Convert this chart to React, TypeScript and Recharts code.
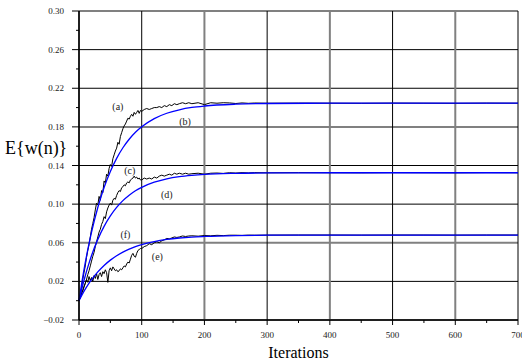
import React from 'react';
import { LineChart, Line, XAxis, YAxis, CartesianGrid, ReferenceDot } from 'recharts';

// ---- iterations (x) ----
const ITER_BLACK = [
  0, 2, 4, 6, 8, 10, 12, 14, 16, 18, 20, 22, 24, 26, 28, 30, 32, 34, 36, 38, 40, 42, 44, 46, 48, 50,
  52, 54, 56, 58, 60, 62, 64, 66, 68, 70, 72, 74, 76, 78, 80, 82, 84, 86, 88, 90, 92, 94, 96, 98, 100,
  104, 108, 112, 116, 120, 124, 128, 132, 136, 140, 144, 148, 152, 156, 160,
  165, 170, 175, 180,
  190, 200, 210, 220, 230, 240, 250, 260, 270, 280, 300, 350, 400, 450, 500, 550, 600, 650, 700,
];
const ITER_BLUE = [0, 5, 10, 15, 20, 30, 40, 50, 60, 70, 80, 90, 100, 120, 140, 160, 180, 200, 250, 300, 400, 500, 600, 700];

// ---- black (noisy) series ----
const SERIES_A = [
  0.0, 0.006, 0.013, 0.022, 0.029, 0.036, 0.045, 0.052, 0.058, 0.066, 0.074, 0.08, 0.086, 0.094, 0.101, 0.099,
  0.108, 0.104, 0.114, 0.112, 0.124, 0.122, 0.131, 0.129, 0.137, 0.141, 0.139, 0.147, 0.151, 0.155, 0.158,
  0.164, 0.162, 0.17, 0.174, 0.178, 0.181, 0.183, 0.186, 0.189, 0.188, 0.191, 0.193, 0.191, 0.195, 0.193,
  0.195, 0.197, 0.194, 0.197, 0.196,
  0.198, 0.199, 0.198, 0.199, 0.2, 0.2, 0.201, 0.2, 0.202, 0.201, 0.203, 0.202, 0.204, 0.203, 0.204,
  0.205, 0.204, 0.205, 0.204,
  0.205, 0.203, 0.205, 0.2045, 0.205, 0.2048, 0.2042, 0.2048, 0.2044, 0.2047, 0.2045, 0.2046, 0.2045, 0.2044,
  0.2046, 0.2045, 0.2044, 0.2046, 0.2045,
];
const SERIES_C = [
  0.0, 0.003, 0.007, 0.01, 0.014, 0.018, 0.022, 0.027, 0.031, 0.036, 0.041, 0.046, 0.05, 0.056, 0.061, 0.066,
  0.071, 0.074, 0.079, 0.082, 0.087, 0.085, 0.092, 0.096, 0.099, 0.101, 0.099, 0.104, 0.106, 0.105, 0.109,
  0.112, 0.114, 0.113, 0.117, 0.118, 0.12, 0.119, 0.122, 0.123, 0.122, 0.125, 0.126, 0.127, 0.129, 0.127,
  0.128, 0.126, 0.127, 0.125, 0.125,
  0.127, 0.126, 0.127, 0.126, 0.128, 0.127, 0.129, 0.13, 0.129, 0.13, 0.131, 0.13, 0.132, 0.131, 0.132,
  0.131, 0.132, 0.131, 0.1315,
  0.132, 0.131, 0.132, 0.1322, 0.1318, 0.1325, 0.1322, 0.1326, 0.1323, 0.1326, 0.1324, 0.1326, 0.1325, 0.1324,
  0.1326, 0.1325, 0.1324, 0.1326, 0.1325,
];
const SERIES_E = [
  0.0, 0.004, 0.008, 0.011, 0.015, 0.018, 0.022, 0.019, 0.025, 0.021, 0.024, 0.02, 0.026, 0.023, 0.028, 0.022,
  0.027, 0.029, 0.025, 0.03, 0.028, 0.032, 0.029, 0.019, 0.031, 0.034, 0.031, 0.035, 0.033, 0.031, 0.032,
  0.03, 0.031, 0.033, 0.032, 0.034, 0.036, 0.035, 0.038, 0.04, 0.039, 0.043, 0.047, 0.049, 0.046, 0.045,
  0.049, 0.052, 0.053, 0.054, 0.054,
  0.056, 0.057, 0.059, 0.058, 0.06, 0.061, 0.06, 0.062, 0.063, 0.0645, 0.064, 0.065, 0.066, 0.0655, 0.066,
  0.067, 0.0665, 0.067, 0.0672,
  0.0668, 0.0675, 0.0672, 0.0677, 0.0674, 0.0678, 0.0678, 0.0676, 0.0679, 0.0678, 0.0679, 0.068, 0.068, 0.0679,
  0.068, 0.068, 0.0679, 0.068, 0.068,
];

// ---- blue (smooth) series ----
const SERIES_B = [0, 0.0207, 0.0393, 0.0559, 0.0709, 0.0965, 0.1172, 0.1339, 0.1474, 0.1584, 0.1672, 0.1744, 0.1801, 0.1886, 0.1941, 0.1977, 0.2001, 0.2016, 0.2035, 0.2042, 0.2045, 0.2045, 0.2045, 0.2045];
const SERIES_D = [0, 0.0136, 0.0258, 0.0368, 0.0468, 0.0635, 0.077, 0.0878, 0.0966, 0.1036, 0.1092, 0.1138, 0.1174, 0.1227, 0.1262, 0.1284, 0.1298, 0.1308, 0.1319, 0.1323, 0.1325, 0.1325, 0.1325, 0.1325];
const SERIES_F = [0, 0.0063, 0.0119, 0.0171, 0.0217, 0.0298, 0.0365, 0.042, 0.0466, 0.0503, 0.0534, 0.056, 0.0581, 0.0612, 0.0634, 0.0649, 0.0659, 0.0665, 0.0674, 0.0678, 0.068, 0.068, 0.068, 0.068];

// ---- ticks ----
const X_TICKS = [0, 50, 100, 150, 200, 250, 300, 350, 400, 450, 500, 550, 600, 650, 700];
const X_MAJOR = [0, 100, 200, 300, 400, 500, 600, 700];
const X_GRAY = [200, 400, 600];
const Y_TICKS = [-0.02, 0.0, 0.02, 0.04, 0.06, 0.08, 0.1, 0.12, 0.14, 0.16, 0.18, 0.2, 0.22, 0.24, 0.26, 0.28, 0.3];
const Y_MAJOR = [-0.02, 0.02, 0.06, 0.1, 0.14, 0.18, 0.22, 0.26, 0.3];
const Y_GRAY = [0.06, 0.18, 0.3];

// ---- curve labels ----
const LABEL_TEXT = ['(a)', '(b)', '(c)', '(d)', '(f)', '(e)'];
const LABEL_ITER = [62, 169, 81, 140, 74, 125];
const LABEL_VAL = [0.2007, 0.1855, 0.1345, 0.1103, 0.0687, 0.0455];

const FONT = '"Liberation Serif", "Times New Roman", serif';

const toSeries = (its: number[], vals: number[]) => its.map((it, i) => ({ it, v: vals[i] }));
const near = (a: number, list: number[]) => list.some((b) => Math.abs(a - b) < 1e-9);

const X_TICK_SIZE = 5;
const X_TICK_MARGIN = 5;
const Y_TICK_SIZE = 7;
const Y_TICK_MARGIN = 8;

const XTick = (props: any) => {
  const { x, y, payload } = props;
  const major = near(payload.value, X_MAJOR);
  const axisY = y - X_TICK_SIZE - X_TICK_MARGIN;
  return (
    <g>
      <line x1={x} x2={x} y1={axisY} y2={axisY + (major ? 5 : 3)} stroke="#000" strokeWidth={1} />
      {major && (
        <text x={x} y={axisY + 18} textAnchor="middle" fontSize={9} fontFamily={FONT} fill="#222">
          {String(payload.value)}
        </text>
      )}
    </g>
  );
};

const fmtY = (v: number) => (v < 0 ? '\u2212' + Math.abs(v).toFixed(2) : v.toFixed(2));

const YTick = (props: any) => {
  const { x, y, payload } = props;
  const major = near(payload.value, Y_MAJOR);
  const axisX = x + Y_TICK_SIZE + Y_TICK_MARGIN;
  return (
    <g>
      <line x1={axisX - (major ? 7 : 3)} x2={axisX} y1={y} y2={y} stroke="#000" strokeWidth={1} />
      {major && (
        <text x={x} y={y + 3} textAnchor="end" fontSize={9} fontFamily={FONT} fill="#222">
          {fmtY(payload.value)}
        </text>
      )}
    </g>
  );
};

const hLine = (props: any) => {
  const { x1, y1, x2, y2, index } = props;
  const gray = near(Y_MAJOR[index], Y_GRAY);
  return (
    <line key={`h-${index}`} x1={x1} y1={y1} x2={x2} y2={y2} stroke={gray ? '#808080' : '#000'} strokeWidth={gray ? 2 : 1} />
  );
};
const vLine = (props: any) => {
  const { x1, y1, x2, y2, index } = props;
  const gray = near(X_MAJOR[index], X_GRAY);
  return (
    <line key={`v-${index}`} x1={x1} y1={y1} x2={x2} y2={y2} stroke={gray ? '#808080' : '#000'} strokeWidth={gray ? 2 : 1} />
  );
};

export default function App() {
  const a = toSeries(ITER_BLACK, SERIES_A);
  const c = toSeries(ITER_BLACK, SERIES_C);
  const e = toSeries(ITER_BLACK, SERIES_E);
  const b = toSeries(ITER_BLUE, SERIES_B);
  const d = toSeries(ITER_BLUE, SERIES_D);
  const f = toSeries(ITER_BLUE, SERIES_F);

  return (
    <div style={{ position: 'absolute', left: 0, top: 0, width: 522, height: 364, background: '#fff' }}>
      <LineChart width={522} height={364} margin={{ top: 11, right: 4, bottom: 0, left: 0 }}>
        <CartesianGrid
          horizontalValues={Y_MAJOR}
          verticalValues={X_MAJOR}
          horizontal={hLine}
          vertical={vLine}
        />
        <XAxis
          dataKey="it"
          type="number"
          domain={[0, 700]}
          ticks={X_TICKS}
          interval={0}
          height={44}
          tickSize={X_TICK_SIZE}
          tickMargin={X_TICK_MARGIN}
          tickLine={false}
          tick={<XTick />}
          axisLine={{ stroke: '#000', strokeWidth: 1.5 }}
          allowDuplicatedCategory={false}
          label={{ value: 'Iterations', position: 'insideBottom', offset: 6, fontSize: 16, fontFamily: FONT, fill: '#000' }}
        />
        <YAxis
          type="number"
          domain={[-0.02, 0.3]}
          ticks={Y_TICKS}
          interval={0}
          width={79}
          tickSize={Y_TICK_SIZE}
          tickMargin={Y_TICK_MARGIN}
          tickLine={false}
          tick={<YTick />}
          axisLine={{ stroke: '#000', strokeWidth: 1.5 }}
          label={{ value: 'E{w(n)}', position: 'insideLeft', offset: 5, dy: -18, fontSize: 18, fontFamily: FONT, fill: '#000' }}
        />
        <Line data={a} dataKey="v" type="linear" stroke="#000" strokeWidth={1} dot={false} isAnimationActive={false} />
        <Line data={c} dataKey="v" type="linear" stroke="#000" strokeWidth={1} dot={false} isAnimationActive={false} />
        <Line data={e} dataKey="v" type="linear" stroke="#000" strokeWidth={1} dot={false} isAnimationActive={false} />
        <Line data={b} dataKey="v" type="monotone" stroke="#0000ff" strokeWidth={1.3} dot={false} isAnimationActive={false} />
        <Line data={d} dataKey="v" type="monotone" stroke="#0000ff" strokeWidth={1.3} dot={false} isAnimationActive={false} />
        <Line data={f} dataKey="v" type="monotone" stroke="#0000ff" strokeWidth={1.3} dot={false} isAnimationActive={false} />
        {LABEL_TEXT.map((t, i) => (
          <ReferenceDot
            key={t}
            x={LABEL_ITER[i]}
            y={LABEL_VAL[i]}
            r={1}
            fill="none"
            stroke="none"
            label={{ value: t, position: 'center', fontSize: 10, fontFamily: FONT, fill: '#222' }}
          />
        ))}
      </LineChart>
    </div>
  );
}
